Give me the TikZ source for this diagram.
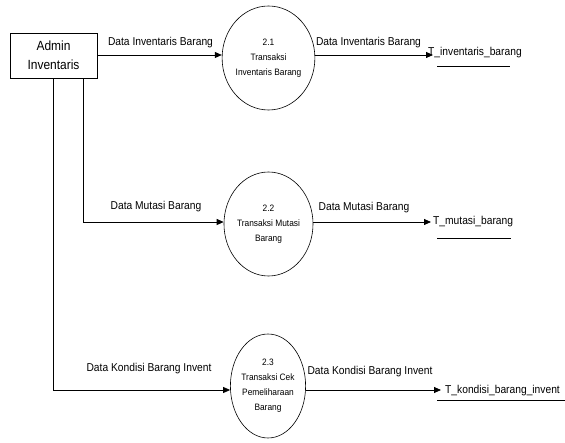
\documentclass[tikz,border=0pt]{standalone}
\usepackage{fontspec}
\setmainfont{Liberation Sans}
\newfontfamily\dfdfont[FakeStretch=0.9]{Liberation Sans}
\usetikzlibrary{arrows.meta,shapes.geometric}

\tikzset{
  flow/.style={line width=0.8pt, -{Triangle[length=7pt,width=6pt]}},
  proc/.style={ellipse, draw, line width=0.6pt, minimum width=75pt,
    minimum height=104pt, inner sep=0pt, align=center,
    font=\dfdfont\fontsize{9.3}{15}\selectfont},
  entity/.style={rectangle, draw, line width=0.8pt, minimum width=87pt,
    minimum height=45pt, inner sep=0pt, align=center,
    font=\dfdfont\fontsize{13.3}{19}\selectfont},
  lbl/.style={inner sep=0pt, font=\dfdfont\fontsize{11.4}{13}\selectfont},
  store/.style={inner sep=0pt, anchor=west, font=\dfdfont\fontsize{11.4}{13}\selectfont},
  storeline/.style={line width=0.8pt}
}

\begin{document}
\begin{tikzpicture}[x=1pt, y=-1pt]
  \useasboundingbox (0,0) rectangle (565,443);

  % external entity
  \node[entity] (admin) at (53.5,55.5) {Admin\\Inventaris};

  % processes
  \node[proc] (p1) at (268.5,58) {2.1\\Transaksi\\Inventaris Barang};
  \node[proc] (p2) at (268.5,224) {2.2\\Transaksi Mutasi\\Barang};
  \node[proc] (p3) at (268,386) {2.3\\Transaksi Cek\\Pemeliharaan\\Barang};

  % flow levels
  \coordinate (r1) at (0,55);
  \coordinate (r2) at (0,222);
  \coordinate (r3) at (0,390);

  % data stores
  \node[store] (s1) at (428,53) {T\_inventaris\_barang};
  \node[store] (s2) at (433,222) {T\_mutasi\_barang};
  \node[store] (s3) at (445,391) {T\_kondisi\_barang\_invent};
  \draw[storeline] (437,66) -- (510,66);
  \draw[storeline] (437,238) -- (511,238);
  \draw[storeline] (437,400) -- (565,400);

  % flows into the processes
  \draw[flow] (admin.east |- r1) -- (p1.west |- r1);
  \draw[flow] ([xshift=29.5pt]admin.south) |- (p2.west |- r2);
  \draw[flow] (admin.south) |- (p3.west |- r3);

  % flows into the stores
  \draw[flow] (p1.east |- r1) -- ([xshift=5pt]s1.west |- r1);
  \draw[flow] (p2.east |- r2) -- ([xshift=-2pt]s2.west |- r2);
  \draw[flow] (p3.east |- r3) -- ([xshift=-4pt]s3.west |- r3);

  % flow labels
  \node[lbl] (l1) at (160.5,43) {Data Inventaris Barang};
  \node[lbl] (l2) at (368.5,43) {Data Inventaris Barang};
  \node[lbl] (l3) at (156,207) {Data Mutasi Barang};
  \node[lbl] (l4) at (364,208) {Data Mutasi Barang};
  \node[lbl] (l5) at (149,369) {Data Kondisi Barang Invent};
  \node[lbl] (l6) at (370,372) {Data Kondisi Barang Invent};
\end{tikzpicture}
\end{document}
